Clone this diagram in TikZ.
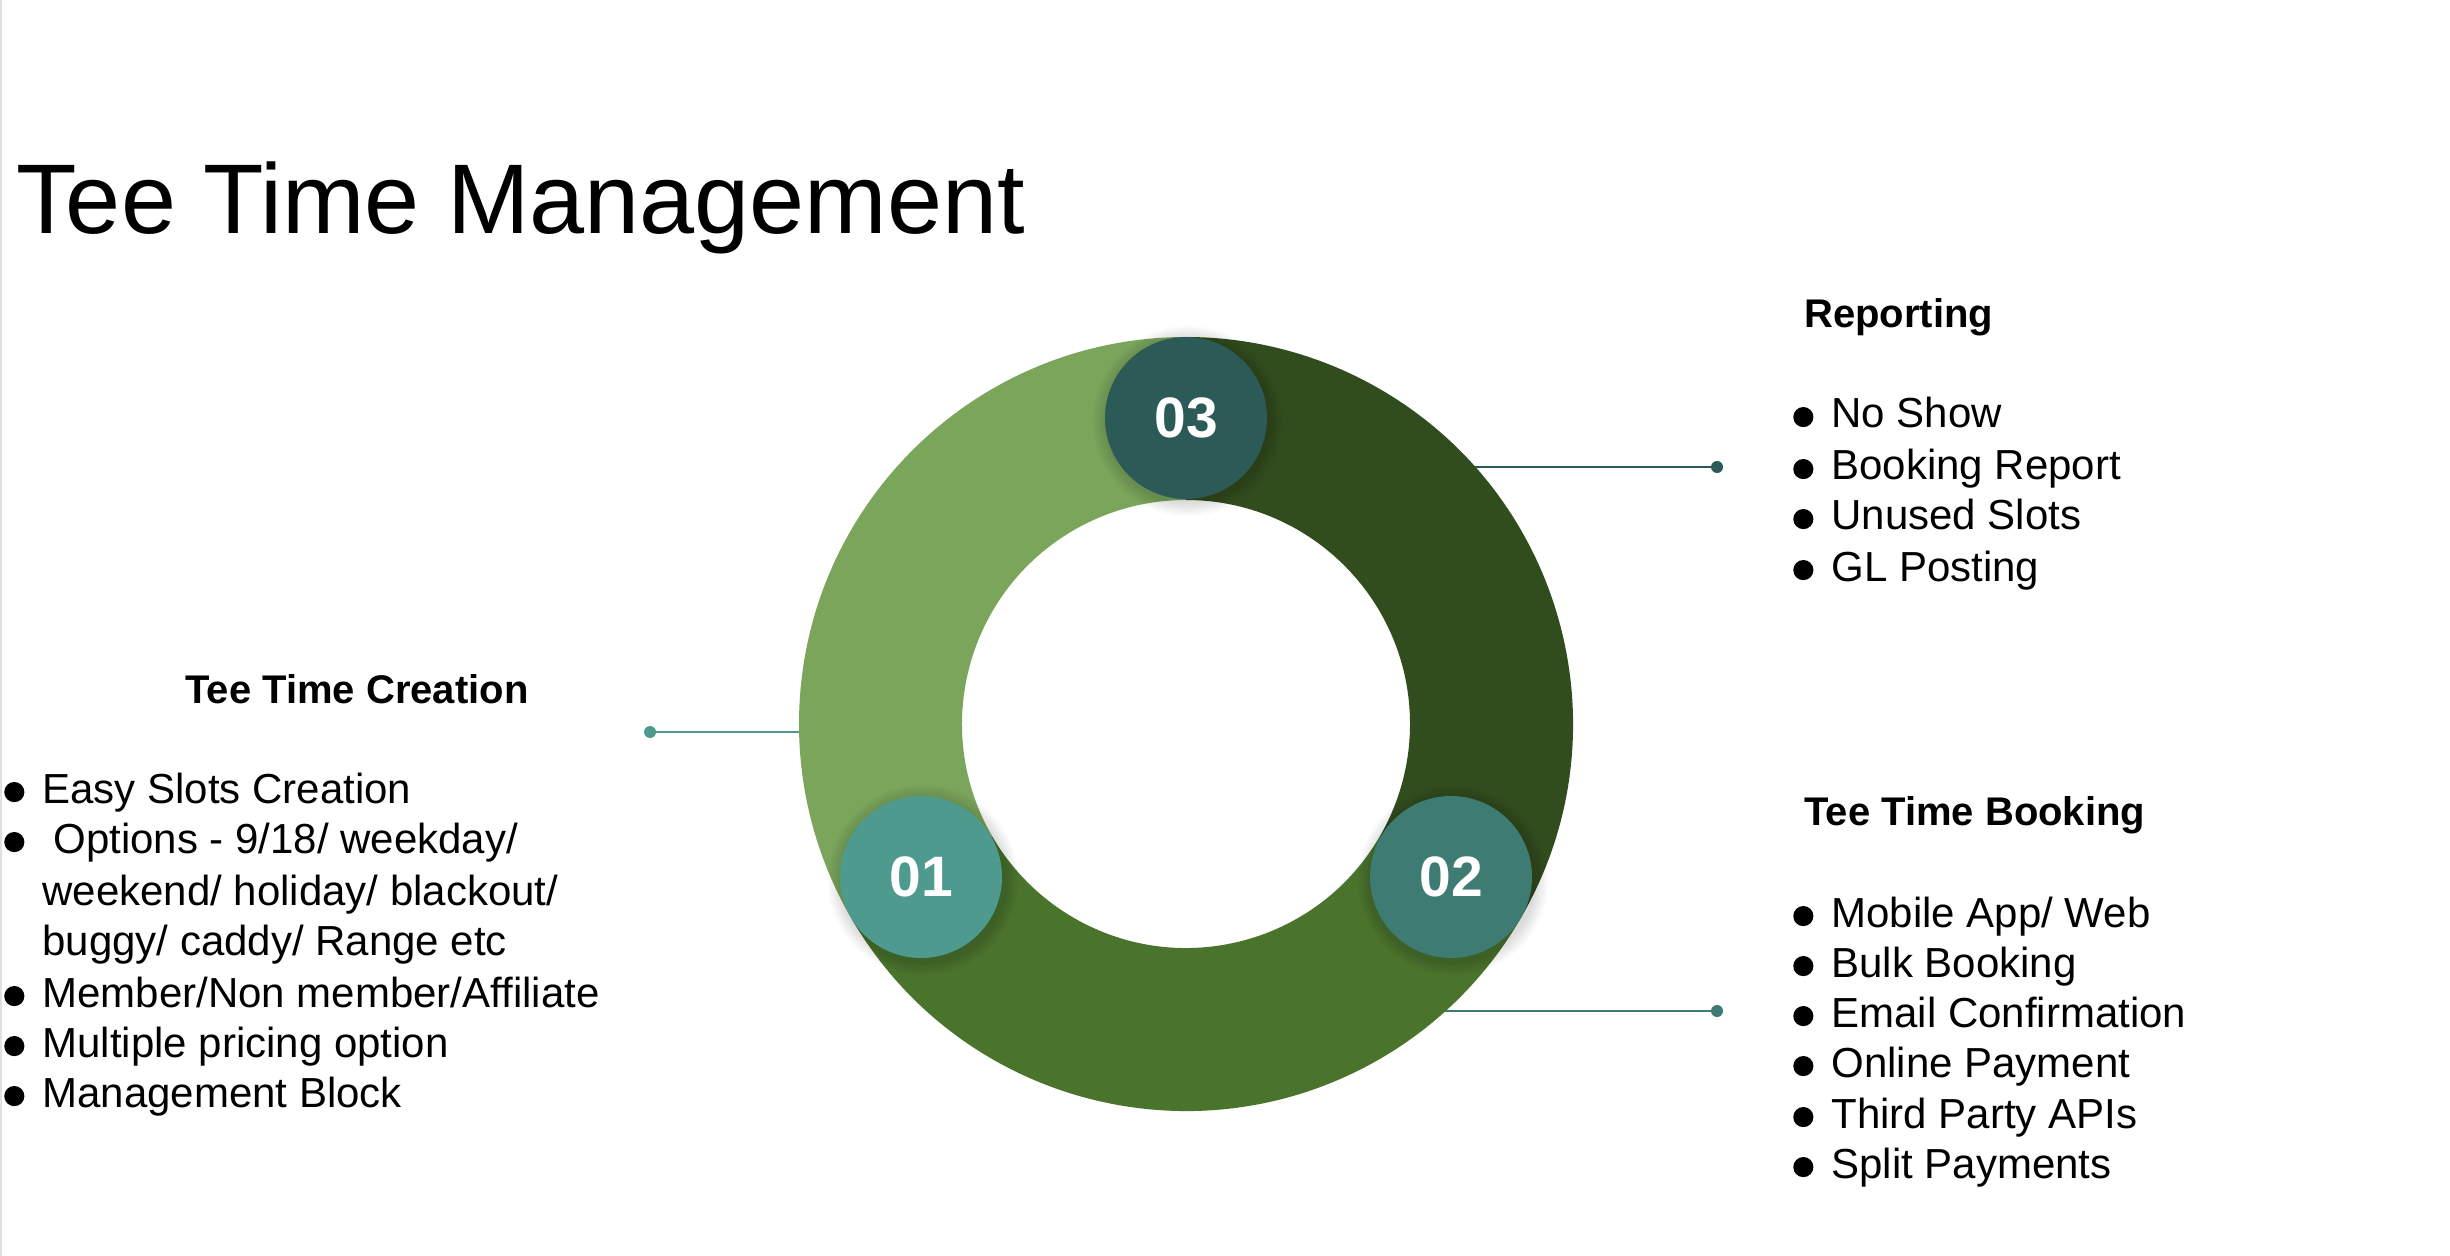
\documentclass[tikz,border=0pt]{standalone}
\usepackage{fontspec}
\setmainfont{Liberation Sans}
\definecolor{lightg}{HTML}{7BA55B}
\definecolor{midg}{HTML}{4A732C}
\definecolor{darkg}{HTML}{314D1E}
\definecolor{tealA}{HTML}{4E9A8F}
\definecolor{tealB}{HTML}{3D7B73}
\definecolor{tealC}{HTML}{2C5A56}
\newcommand\blt{\tikz[baseline=0pt]\fill (0,0.26em) circle (0.24em);}
\newcommand\itm[1]{\llap{\blt\hspace{9pt}}#1}
\begin{document}
\begin{tikzpicture}[x=0.5pt,y=0.5pt,
  item/.style={anchor=base west, inner sep=0pt, font=\fontsize{21pt}{25pt}\selectfont},
  head/.style={anchor=base west, inner sep=0pt, font=\bfseries\fontsize{20pt}{24pt}\selectfont},
  num/.style={circle, minimum size=81pt, inner sep=0pt, text=white, font=\bfseries\fontsize{28.5pt}{30pt}\selectfont},
  dotn/.style={circle, minimum size=6pt, inner sep=0pt},
  conn/.style={line width=1.3pt}]
\useasboundingbox (0,0) rectangle (2450,-1256);
\fill[white] (0,0) rectangle (2450,-1256);
\fill[black!12] (0,0) rectangle (2,-1256);
% connectors (behind ring)
\coordinate (repR) at (1440,-467);
\node[dotn, fill=tealC] (repD) at (1717,-467) {};
\draw[conn, tealC] (repR) -- (repD);
\coordinate (creR) at (830,-732);
\node[dotn, fill=tealA] (creD) at (650,-732) {};
\draw[conn, tealA] (creD) -- (creR);
\coordinate (bkR) at (1420,-1011);
\node[dotn, fill=tealB] (bkD) at (1717,-1011) {};
\draw[conn, tealB] (bkR) -- (bkD);
% ring
\begin{scope}[shift={(1186,-724)}]
  \fill[lightg] (90:387) arc[start angle=90, end angle=210, radius=387] -- (210:224) arc[start angle=210, end angle=90, radius=224] -- cycle;
  \fill[midg] (210:387) arc[start angle=210, end angle=330, radius=387] -- (330:224) arc[start angle=330, end angle=210, radius=224] -- cycle;
  \fill[darkg] (330:387) arc[start angle=330, end angle=450, radius=387] -- (450:224) arc[start angle=450, end angle=330, radius=224] -- cycle;
  \coordinate (p03) at (90:306);
  \coordinate (p01) at (210:306);
  \coordinate (p02) at (330:306);
\end{scope}
% soft shadows
\foreach \p in {p01,p02,p03}{
  \foreach \k in {2,4,...,14}{
    \fill[black, opacity=0.018] ([shift={(2,-3)}]\p) circle (81+\k);
  }
}
\node[num, fill=tealA] (n01) at (p01) {01};
\node[num, fill=tealB] (n02) at (p02) {02};
\node[num, fill=tealC] (n03) at (p03) {03};
% title
\node[anchor=base west, inner sep=0pt, font=\fontsize{49.5pt}{55pt}\selectfont] (title) at (16,-234) {Tee Time Management};
% reporting
\node[head] (rh) at (1804,-328) {Reporting};
\node[item] (r1) at (1831,-428) {\itm{No Show}};
\node[item] (r2) at (1831,-480) {\itm{Booking Report}};
\node[item] (r3) at (1831,-530) {\itm{Unused Slots}};
\node[item] (r4) at (1831,-581) {\itm{GL Posting}};
% booking
\node[head] (bh) at (1804,-825) {Tee Time Booking};
\node[item] (b1) at (1831,-927) {\itm{Mobile App/ Web}};
\node[item] (b2) at (1831,-977) {\itm{Bulk Booking}};
\node[item] (b3) at (1831,-1027) {\itm{Email Confirmation}};
\node[item] (b4) at (1831,-1077) {\itm{Online Payment}};
\node[item] (b5) at (1831,-1128) {\itm{Third Party APIs}};
\node[item] (b6) at (1831,-1178) {\itm{Split Payments}};
% creation
\node[head] (ch) at (185,-703) {Tee Time Creation};
\node[item] (c1) at (42,-803) {\itm{Easy Slots Creation}};
\node[item] (c2) at (42,-853) {\itm{\hspace*{5.5pt}Options - 9/18/ weekday/}};
\node[item] (c3) at (42,-905) {weekend/ holiday/ blackout/};
\node[item] (c4) at (42,-955) {buggy/ caddy/ Range etc};
\node[item] (c5) at (42,-1007) {\itm{Member/Non member/Affiliate}};
\node[item] (c6) at (42,-1057) {\itm{Multiple pricing option}};
\node[item] (c7) at (42,-1107) {\itm{Management Block}};
\end{tikzpicture}
\end{document}
